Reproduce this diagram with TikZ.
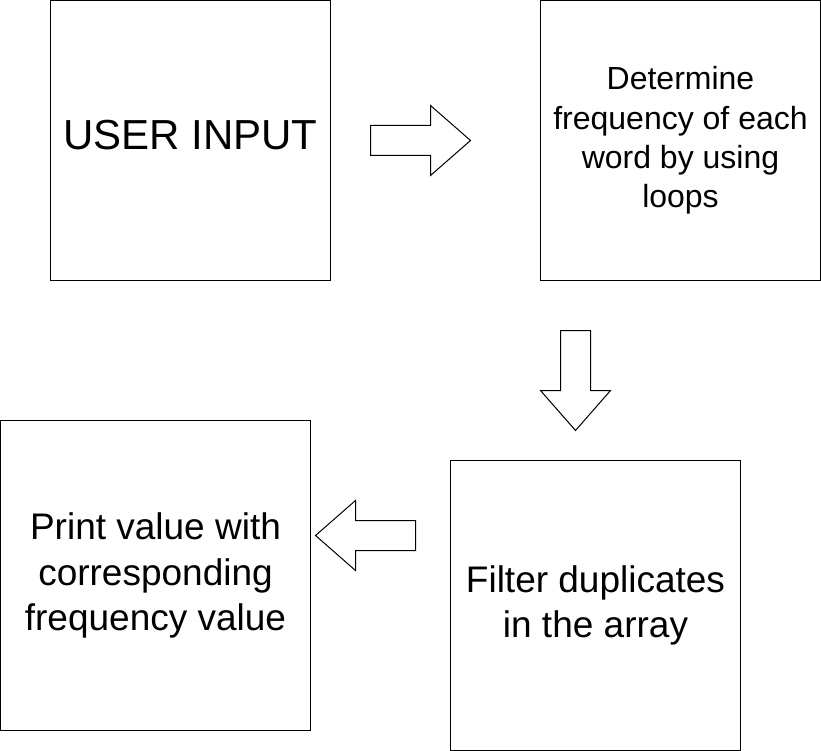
\documentclass[tikz,border=0pt]{standalone}
\usepackage{fontspec}
\setmainfont{Liberation Sans}
\usepackage{xcolor}
\tikzstyle{box} = [draw,line width=1pt,inner sep=0pt,align=center,minimum width=280pt,minimum height=280pt]
\tikzstyle{blockarrow} = [draw,line width=1pt,line join=miter,fill=white]

\begin{document}
\begin{tikzpicture}[x=1pt,y=-1pt]
          \useasboundingbox (0,0) rectangle (821,751);
          % boxes
          \node[box,text depth=11pt,font=\fontsize{42}{50}\selectfont] (input) at (190.5,140.5) {USER INPUT};
          \node[box,font=\fontsize{32}{39.3}\selectfont] (freq) at (680.5,140.5) {Determine\\frequency of each\\word by using\\loops};
          \node[box,minimum width=290pt,minimum height=290pt,font=\fontsize{37}{45}\selectfont] (filter) at (595.5,605.5) {Filter duplicates\\in the array};
          \node[box,minimum width=310pt,minimum height=310pt,font=\fontsize{37}{45.5}\selectfont] (print) at (155.5,575.5) {Print value with\\corresponding\\frequency value};

          % block arrows
          \draw[blockarrow] (370.5,125.5) -- (430.5,125.5) -- (430.5,105.5) -- (470.5,140.5)
            -- (430.5,175.5) -- (430.5,155.5) -- (370.5,155.5) -- cycle;
          \draw[blockarrow] (560.5,330.5) -- (590.5,330.5) -- (590.5,390.5) -- (610.5,390.5)
            -- (575.5,430.5) -- (540.5,390.5) -- (560.5,390.5) -- cycle;
          \draw[blockarrow] (415.5,520.5) -- (355.5,520.5) -- (355.5,500.5) -- (315.5,535.5)
            -- (355.5,570.5) -- (355.5,550.5) -- (415.5,550.5) -- cycle;
\end{tikzpicture}
\end{document}
